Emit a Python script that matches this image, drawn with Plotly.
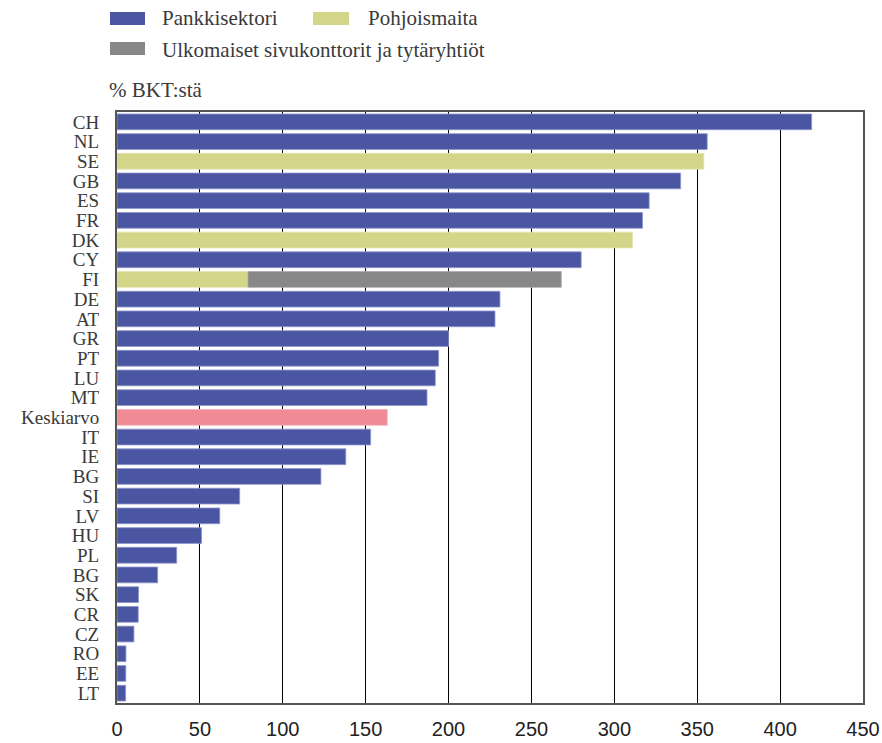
import plotly.graph_objects as go

# ---- data ----
categories = ["CH", "NL", "SE", "GB", "ES", "FR", "DK", "CY", "FI", "DE", "AT", "GR",
              "PT", "LU", "MT", "Keskiarvo", "IT", "IE", "BG", "SI", "LV", "HU", "PL",
              "BG", "SK", "CR", "CZ", "RO", "EE", "LT"]
values = [419, 356, 354, 340, 321, 317, 311, 280, 79, 231, 228, 200,
          194, 192, 187, 163, 153, 138, 123, 74, 62, 51, 36,
          24.5, 13, 12.8, 10.2, 5.4, 5.3, 5.2]
groups = ["bank", "bank", "nordic", "bank", "bank", "bank", "nordic", "bank", "nordic",
          "bank", "bank", "bank", "bank", "bank", "bank", "avg", "bank", "bank", "bank",
          "bank", "bank", "bank", "bank", "bank", "bank", "bank", "bank", "bank", "bank", "bank"]
foreign_category = "FI"
foreign_value = 189  # Ulkomaiset sivukonttorit ja tytäryhtiöt (stacked on FI)

legend_labels = ["Pankkisektori", "Pohjoismaita", "Ulkomaiset sivukonttorit ja tytäryhtiöt"]
unit_label = "% BKT:stä"
x_ticks = [0, 50, 100, 150, 200, 250, 300, 350, 400, 450]

colors = {"bank": "#4B56A3", "nordic": "#D3D688", "foreign": "#888888", "avg": "#F08A94"}
edge = {"bank": "#8E95CC", "nordic": "#E3E5B0", "foreign": "#AAAAAA", "avg": "#F5B0B6"}

idx = list(range(len(categories)))
fig = go.Figure()

for g in ["bank", "nordic", "avg"]:
    ys = [i for i in idx if groups[i] == g]
    xs = [values[i] for i in idx if groups[i] == g]
    fig.add_trace(go.Bar(
        orientation="h", y=ys, x=xs, width=0.8,
        marker=dict(color=colors[g], line=dict(color=edge[g], width=0.8)),
        showlegend=False, hoverinfo="x"))

fi_i = categories.index(foreign_category)
fig.add_trace(go.Bar(
    orientation="h", y=[fi_i], x=[foreign_value], base=[values[fi_i]], width=0.8,
    marker=dict(color=colors["foreign"], line=dict(color=edge["foreign"], width=0.8)),
    showlegend=False, hoverinfo="x"))

W, H = 882, 743
ml, mr, mt, mb = 117, 19, 112, 40
pw, ph = W - ml - mr, H - mt - mb


def px2paper(px, py):
    return (px - ml) / pw, (H - mb - py) / ph


shapes = []
annotations = []
legend_items = [
    (legend_labels[0], colors["bank"], 110, 12, 145, 25, 160, 18),
    (legend_labels[1], colors["nordic"], 313, 12, 349, 25, 366, 18),
    (legend_labels[2], colors["foreign"], 110, 42, 145, 55, 160, 50),
]
for text, col, x0, y0, x1, y1, tx, ty in legend_items:
    a0, b0 = px2paper(x0, y0)
    a1, b1 = px2paper(x1, y1)
    shapes.append(dict(type="rect", xref="paper", yref="paper", x0=a0, x1=a1, y0=b1, y1=b0,
                       fillcolor=col, line=dict(width=0), layer="above"))
    tx_, ty_ = px2paper(tx, ty)
    annotations.append(dict(xref="paper", yref="paper", x=tx_, y=ty_, text=text,
                            showarrow=False, xanchor="left", yanchor="middle",
                            font=dict(family="Liberation Serif", size=21, color="#3a3a3a")))
ux, uy = px2paper(107, 90)
annotations.append(dict(xref="paper", yref="paper", x=ux, y=uy, text=unit_label,
                        showarrow=False, xanchor="left", yanchor="middle",
                        font=dict(family="Liberation Serif", size=21, color="#3a3a3a")))

fig.update_layout(
    width=W, height=H,
    margin=dict(l=ml, r=mr, t=mt, b=mb, autoexpand=False),
    paper_bgcolor="white", plot_bgcolor="white",
    barmode="overlay", bargap=0.2,
    shapes=shapes, annotations=annotations,
    xaxis=dict(range=[0, 450], tickvals=x_ticks, ticktext=[str(v) for v in x_ticks],
               showgrid=True, gridcolor="#000000", gridwidth=1,
               showline=True, linecolor="#555555", linewidth=2, mirror=True,
               ticks="", ticklabelstandoff=7, zeroline=False, automargin=False,
               tickfont=dict(family="Liberation Sans", size=20, color="#222222")),
    yaxis=dict(range=[len(categories) - 0.5, -0.5], tickvals=idx, ticktext=categories,
               showgrid=False, showline=True, linecolor="#555555", linewidth=2, mirror=True,
               ticks="", ticklabelstandoff=12, zeroline=False, automargin=False,
               tickfont=dict(family="Liberation Serif", size=19, color="#3a3a3a")),
)

# remove the browser's default 8px body margin so the figure sits at the page origin
fig.write_html("out.html", config={"displayModeBar": False},
               post_script="document.body.style.margin='0px';")
